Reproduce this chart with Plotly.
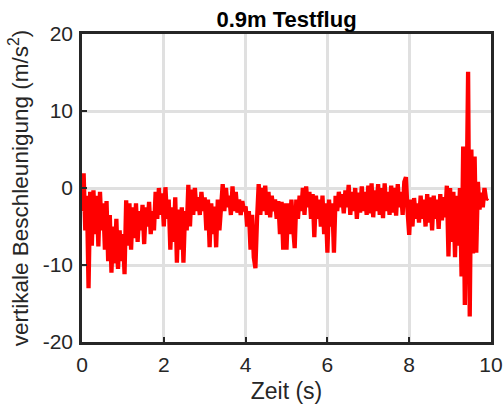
import plotly.graph_objects as go

dt = 0.04
accel = [
    # 0.00 - 0.96
    -3, 1.9, -5.5, -1, -13, -0.5, -7.5, -0.3, -6, -1, -7.6, -0.5, -5.5, -2, -8, -1.7, -9.5, -3.5, -11, -5, -9.8, -4, -10.5, -5.5, -9.5,
    # 1.00 - 1.96
    -6, -11.2, -1.6, -7.5, -2, -8, -2.5, -6.5, -2, -7, -3, -5.5, -2.2, -7.3, -2.5, -5, -1.8, -6, -3, -5.5, -0.5, -4, 0, -3.5, -0.7,
    # 2.00 - 2.96
    -5, 0.1, -4, -1.5, -8, -2.5, -7, -1.2, -9.7, -2.8, -8, -2.5, -9.7, -3, -5.5, 0.4, -5, -0.2, -3.5, 0, -3, -1.2, -3.5, -0.5, -3,
    # 3.00 - 3.96
    -1.2, -5.5, -1.5, -7.7, -2, -6, -2.4, -7.7, -1.5, -5.5, -2, 0.5, -3, 0, -2.5, -1, -3.5, 0.2, -3, -0.5, -3.2, -1.5, -3.5, -1.7, -3,
    # 4.00 - 4.96
    -2.4, -5, -3, -8, -3.5, -9, -10.4, -4, 0.5, -3.5, 0, -3, 0.3, -3.5, -0.5, -3.8, -1, -3, -1.5, -4, -1.7, -6, -1.8, -8, -2,
    # 5.00 - 5.96
    -8, -2, -6, -1.5, -5, -7.8, -1.5, -4, -1, -3, 0, -3.5, 0.2, -2.5, -0.5, -4, -0.8, -6.4, -1, -4, -1.5, -5, -1, -6, -2,
    # 6.00 - 6.96
    -8.4, -1.5, -5, -2, -8.4, -1, -3, -0.5, -2.5, -0.8, -3.3, -0.3, -2.5, 0.4, -3.5, -0.5, -3, 0, -4, -0.6, -3.2, 0.2, -3, -0.5, -3.5,
    # 7.00 - 7.96
    0.3, -3.3, 0.6, -3.8, -0.3, -3, 0.5, -3.5, 0, -3.9, 0.6, -3, -0.5, -3.5, 0.3, -3.2, 0, -3.6, 0.5, -2.5, -0.5, -3.5, 0.8, 1.4, -3,
    # 8.00 - 8.96
    -6.1, -1.5, -5, -1.3, -4, -2, -4.5, -1, -4, -1.5, -5, -0.8, -4.5, -1.2, -5.5, -1, -4, -1.5, -5.3, -0.8, -4.2, -1.2, -3.8, 0.3, -8.9,
    # 9.00 - 9.92
    0, -7, -0.5, -9, -1, -7.5, 0, -11.5, 5.4, -15.2, -3.3, 15.1, -16.7, 5, -8.5, 4.1, -8.4, 0.8, -2.8, -0.6, -2.5, 0, -1.5, -1.3,
]
time = [i * dt for i in range(len(accel))]

x_ticks = [0, 2, 4, 6, 8, 10]
x_ticklabels = ["0", "2", "4", "6", "8", "10"]
y_ticks = [-20, -10, 0, 10, 20]
y_ticklabels = ["-20", "-10", "0", "10", "20"]

title_text = "<b>0.9m Testflug</b>"
x_title = "Zeit (s)"
y_title = "vertikale Beschleunigung (m/s<sup>2</sup>)"

FONT = "Liberation Sans, Arial, sans-serif"
AX = "#262626"

fig = go.Figure()
fig.add_trace(go.Scatter(x=time, y=accel, mode="lines",
                         line=dict(color="#ff0000", width=4.3), showlegend=False))

axis_common = dict(
    showline=True, mirror=True, linecolor=AX, linewidth=2.5,
    ticks="inside", ticklen=5, tickwidth=2, tickcolor=AX,
    showgrid=True, gridcolor="#e0e0e0", gridwidth=2.5,
    zeroline=False, automargin=False,
    tickfont=dict(family=FONT, size=21, color=AX),
)

fig.update_layout(
    width=503, height=405,
    margin=dict(l=82, r=12, t=34, b=63),
    paper_bgcolor="white", plot_bgcolor="white",
    title=dict(text=title_text, x=0.5, xref="paper", xanchor="center",
               y=0.953, yref="container", yanchor="middle",
               font=dict(family=FONT, size=22, color="black")),
    xaxis=dict(range=[0, 10], tickvals=x_ticks, ticktext=x_ticklabels,
               ticklabelstandoff=2,
               title=dict(text=x_title, font=dict(family=FONT, size=23, color=AX), standoff=8),
               **axis_common),
    yaxis=dict(range=[-20, 20], tickvals=y_ticks, ticktext=y_ticklabels,
               ticklabelstandoff=2,
               title=dict(text=y_title, font=dict(family=FONT, size=22.5, color=AX), standoff=8),
               **axis_common),
)

fig.write_html("out.html")
